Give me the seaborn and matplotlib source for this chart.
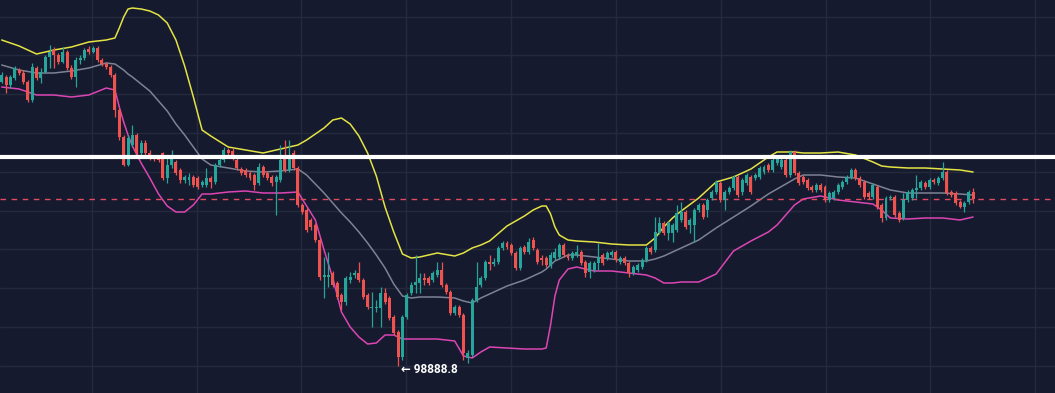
import numpy as np
import pandas as pd
import matplotlib
matplotlib.use("Agg")
import matplotlib.pyplot as plt
import seaborn as sns

# candles
opens = [
    113100, 113350, 112950, 113300, 113700, 113550, 113100, 112200, 113800, 113300,
    113600, 114350, 114700, 114450, 114100, 114600, 113800, 113350, 114200, 114300,
    114750, 114600, 114800, 114200, 114000, 113850, 113450, 111700, 110350, 108950,
    109950, 110450, 109550, 110050, 109550, 109350, 109350, 109550, 108300, 108950,
    109100, 108700, 108200, 108200, 108350, 108300, 107950, 107950, 108300, 108100,
    108950, 109200, 109700, 109650, 109200, 108750, 108700, 108550, 108450, 108050,
    108850, 108550, 108350, 108100, 108200, 109450, 108700, 109550, 108800, 106950,
    106700, 106200, 105950, 105200, 103350, 103350, 103550, 103050, 102450, 102100,
    103200, 103450, 103550, 103200, 102450, 101800, 101800, 101800, 102550, 102300,
    101350, 100600, 99350, 101350, 102550, 102950, 103050, 103300, 103300, 103200,
    103450, 103700, 102950, 102600, 101550, 101850, 101450, 99300, 99450, 102200,
    102950, 103300, 104100, 104000, 104100, 104800, 105050, 104950, 104550, 103800,
    104850, 104600, 105200, 104700, 104300, 104300, 103950, 104300, 104350, 104950,
    104450, 104300, 104450, 104600, 104100, 103600, 103700, 104050, 104450, 104300,
    104450, 104600, 104100, 104300, 104050, 103550, 103700, 103850, 104200, 104800,
    104700, 105600, 106050, 105550, 105550, 105700, 106200, 106600, 105950, 105950,
    106700, 106950, 106700, 107300, 107600, 108050, 107200, 107600, 107800, 108350,
    107600, 108050, 108350, 108300, 108350, 108600, 108950, 108700, 109050, 108850,
    109200, 108450, 109600, 108550, 108350, 108200, 107850, 107700, 107950, 107850,
    107200, 107300, 107600, 107850, 108100, 108350, 108700, 108300, 108100, 107550,
    107350, 107850, 106950, 106300, 107300, 107350, 106550, 106300, 107200, 107300,
    107700, 107800, 108050, 107850, 108200, 108050, 108300, 108600, 107600, 107550,
    107100, 106850, 107100, 107600,
]
closes = [
    113450, 112950, 113350, 113800, 113550, 113100, 112200, 113850, 113300, 113600,
    114350, 114600, 114450, 114100, 114600, 113800, 113350, 114200, 114300, 114700,
    114600, 114800, 114200, 114000, 113850, 113450, 111700, 110350, 108950, 110300,
    110450, 109550, 110050, 109550, 109300, 109250, 109200, 108300, 108950, 109300,
    108550, 108200, 108350, 108350, 107950, 107850, 108100, 108300, 108100, 108950,
    109200, 109700, 109550, 109300, 108800, 108550, 108450, 108300, 107950, 108850,
    108450, 108300, 108050, 108350, 109200, 108700, 109450, 108800, 106950, 106600,
    105700, 105850, 105200, 103350, 103450, 103450, 102950, 102350, 102100, 103300,
    103350, 103550, 103200, 102350, 101850, 101850, 101850, 102550, 102100, 101300,
    100550, 99350, 101350, 102450, 102950, 103100, 103300, 103200, 103050, 103550,
    103700, 102950, 102600, 101550, 101850, 101450, 99550, 99550, 102200, 102850,
    103300, 104100, 104000, 104100, 104800, 105050, 104850, 104550, 103800, 104800,
    104600, 105100, 104800, 104100, 104200, 103950, 104450, 104600, 104950, 104450,
    104300, 104550, 104600, 104050, 103550, 104050, 104050, 104350, 104050, 104550,
    104600, 104200, 104300, 104050, 103550, 103850, 103950, 104200, 104800, 104600,
    105600, 106050, 105550, 106050, 105950, 106550, 106600, 105850, 106200, 106700,
    106950, 106350, 107200, 107600, 108100, 107200, 107600, 107800, 108350, 107450,
    108200, 108450, 107600, 108450, 108800, 108850, 108700, 109200, 109300, 109200,
    108450, 109600, 108550, 108050, 108100, 107800, 107700, 107950, 107700, 107200,
    107550, 107600, 107950, 108100, 108350, 108700, 108300, 107950, 107350, 107350,
    107950, 106850, 106300, 107300, 107350, 106450, 106200, 107200, 107600, 107700,
    107800, 108100, 107850, 108200, 108100, 108300, 108600, 107550, 107450, 107050,
    106850, 107050, 107600, 107250,
]
highs = [
    113600, 113450, 113450, 113900, 113800, 113700, 113200, 114050, 113900, 113800,
    114450, 114950, 114850, 114550, 114850, 114700, 113950, 114350, 114450, 114800,
    114900, 114900, 114900, 114300, 114100, 113950, 113550, 111800, 110450, 110450,
    110950, 110550, 110200, 110200, 109700, 109450, 109450, 109600, 109450, 109700,
    109200, 108800, 108450, 108550, 108450, 108400, 108200, 108800, 108400, 109050,
    109350, 109850, 109800, 109800, 109300, 108850, 108800, 108650, 108550, 109050,
    108950, 108650, 108450, 108450, 109950, 110200, 110200, 109700, 108900, 107050,
    106800, 106300, 106050, 105300, 104350, 104600, 103650, 103150, 102550, 103400,
    103600, 103700, 104100, 103300, 102550, 102600, 102200, 102850, 102800, 102400,
    101450, 100700, 101450, 102550, 103100, 104450, 103550, 103550, 103400, 103650,
    104100, 104100, 103050, 102700, 101950, 101950, 101550, 99700, 102300, 104100,
    103400, 104200, 104450, 104300, 104900, 105150, 105150, 105050, 104650, 104900,
    104950, 105300, 105350, 104800, 104450, 104400, 104600, 104800, 105050, 105050,
    104550, 104650, 104950, 104700, 104200, 104150, 104150, 105050, 104550, 104650,
    104700, 104700, 104400, 104400, 104150, 103950, 104050, 104300, 104900, 104900,
    106350, 106350, 106150, 106150, 106050, 106950, 107100, 106700, 106300, 106800,
    107050, 107050, 107300, 107700, 108200, 108150, 107700, 107900, 108450, 108450,
    108300, 108550, 108450, 108550, 108900, 108950, 109050, 109300, 109400, 109300,
    109300, 109700, 109700, 108650, 108450, 108300, 107950, 108050, 108050, 107950,
    107650, 107700, 108050, 108200, 108450, 108800, 108800, 108400, 108200, 107650,
    108050, 107950, 107050, 107400, 107450, 107450, 106650, 107550, 107700, 107800,
    108450, 108200, 108150, 108300, 108300, 108400, 109100, 108700, 107700, 107650,
    107200, 107150, 107700, 107800,
]
lows = [
    113050, 112550, 112800, 113200, 113450, 113000, 112100, 112100, 113200, 113050,
    113550, 113800, 113800, 114000, 114050, 113700, 113250, 112850, 114000, 114200,
    114500, 114550, 114100, 113900, 113750, 113350, 111350, 110200, 108900, 108900,
    109850, 109450, 109450, 109400, 109200, 109150, 109100, 108200, 108050, 108800,
    108450, 108050, 108050, 107950, 107850, 107750, 107850, 107850, 107800, 108000,
    108850, 109100, 109450, 109200, 108700, 108450, 108350, 108200, 107700, 107950,
    108350, 108200, 107900, 106450, 108100, 108600, 108600, 108700, 106850, 106500,
    105600, 105700, 105100, 103200, 102300, 102850, 102850, 102250, 101700, 101950,
    103050, 103300, 103100, 102250, 101750, 100850, 101600, 100850, 102000, 101200,
    100450, 98888.8, 99200, 101250, 102450, 102550, 102550, 102950, 102950, 103100,
    103350, 102850, 102500, 101450, 101450, 101350, 99200, 99050, 99350, 102100,
    102850, 103200, 103700, 103900, 104000, 104700, 104750, 104450, 103700, 103700,
    104500, 104500, 104700, 104000, 103950, 103850, 103800, 104200, 104250, 104350,
    104200, 104200, 104350, 103950, 103350, 103300, 103600, 103700, 103950, 104200,
    104350, 104100, 104000, 103950, 103350, 103450, 103600, 103750, 104100, 104500,
    104600, 105500, 105450, 105200, 105100, 105600, 106100, 105750, 105550, 105100,
    106600, 106250, 106350, 107200, 107500, 107100, 106700, 107500, 107700, 107350,
    107450, 107950, 107500, 108200, 108250, 108500, 108600, 108600, 108950, 108750,
    108350, 108350, 108450, 107950, 108000, 107700, 107600, 107600, 107600, 107100,
    107100, 107200, 107500, 107750, 108000, 108250, 108200, 107850, 107250, 107250,
    107250, 106750, 106100, 106200, 107200, 106350, 106100, 106200, 107100, 107200,
    107300, 107700, 107750, 107750, 108000, 107950, 108200, 107450, 107350, 106950,
    106800, 106600, 107000, 107050,
]

# bollinger bands, read at these candles
band_idx = [
    0, 4, 8, 12, 16, 20, 24, 26, 27, 28,
    29, 30, 32, 34, 36, 38, 40, 42, 44, 46,
    48, 52, 56, 60, 64, 68, 70, 72, 74, 76,
    78, 80, 82, 84, 86, 88, 90, 92, 94, 96,
    100, 104, 106, 108, 110, 112, 116, 120, 122, 124,
    125, 126, 127, 128, 130, 132, 136, 140, 144, 148,
    150, 152, 154, 156, 160, 164, 168, 172, 176, 178,
    180, 182, 184, 188, 192, 196, 200, 202, 204, 208,
    212, 216, 220, 223,
]
upper_band = [
    115200, 114900, 114500, 114700, 114850, 115100, 115200, 115300, 115800, 116350,
    116750, 116800, 116750, 116650, 116450, 116050, 115200, 113900, 112350, 110700,
    110400, 109850, 109700, 109550, 109750, 109950, 110200, 110500, 110800, 111200,
    111300, 111000, 110400, 109550, 108400, 106850, 105600, 104500, 104300, 104350,
    104550, 104400, 104550, 104800, 104950, 105150, 105900, 106400, 106700, 106900,
    106900, 106500, 105850, 105450, 105200, 105150, 105100, 105000, 104950, 104950,
    105300, 105850, 106300, 106650, 107300, 108100, 108350, 108750, 109350, 109600,
    109600, 109600, 109550, 109550, 109600, 109450, 109100, 108900, 108850, 108800,
    108800, 108750, 108700, 108600,
]
mid_band = [
    113950, 113700, 113550, 113550, 113650, 113800, 114050, 114000, 113850, 113700,
    113500, 113350, 113000, 112650, 112150, 111650, 111000, 110450, 109850, 109250,
    108950, 108800, 108650, 108600, 108650, 108750, 108450, 108000, 107550, 107050,
    106550, 106100, 105600, 105050, 104450, 103800, 103000, 102400, 102300, 102350,
    102350, 102300, 102150, 102050, 102300, 102500, 102900, 103200, 103400, 103600,
    103750, 103950, 104150, 104250, 104450, 104450, 104350, 104250, 104150, 104150,
    104250, 104400, 104600, 104800, 105200, 105800, 106350, 106900, 107500, 107750,
    108000, 108250, 108450, 108450, 108350, 108300, 108000, 107850, 107700, 107550,
    107550, 107550, 107500, 107450,
]
lower_band = [
    112850, 112750, 112450, 112450, 112350, 112450, 112800, 112700, 111850, 111100,
    110450, 109900, 109050, 108300, 107500, 106900, 106600, 106600, 106950, 107500,
    107500, 107600, 107650, 107550, 107550, 107600, 106900, 106200, 104700, 103300,
    101600, 100850, 100350, 100000, 100050, 100450, 100450, 100250, 100250, 100250,
    100250, 100150, 99400, 99300, 99600, 99850, 99800, 99750, 99750, 99750,
    99800, 100950, 102400, 103200, 103750, 103850, 103650, 103650, 103550, 103450,
    103300, 103050, 103050, 103100, 103100, 103500, 104650, 105150, 105600, 105950,
    106450, 106950, 107250, 107400, 107200, 107100, 107000, 106700, 106300, 106250,
    106300, 106300, 106200, 106350,
]

level_price = 109350
low_text = "98888.8"

bg = "#161a2e"
up_col = "#26a69a"
down_col = "#ef5350"

sns.set_style("dark", rc={
    "axes.facecolor": bg,
    "figure.facecolor": bg,
    "grid.color": "#242a3d",
    "axes.grid": True,
})

df = pd.DataFrame({"open": opens, "close": closes, "high": highs, "low": lows})
df["i"] = np.arange(len(df))
df["col"] = np.where(df["close"] >= df["open"], up_col, down_col)

bands = pd.DataFrame({"i": band_idx, "upper": upper_band,
                      "mid": mid_band, "lower": lower_band})

fig = plt.figure(figsize=(10.55, 3.93), dpi=100)
ax = fig.add_axes([0, 0, 1, 1])

# grid
ax.set_xticks(np.arange(20.7, 242, 24.06))
ax.set_yticks(np.arange(116375, 97000, -1940))
ax.grid(True, color="#242a3d", linewidth=1)
ax.tick_params(length=0, labelbottom=False, labelleft=False)
for s in ax.spines.values():
    s.set_visible(False)

# bands
sns.lineplot(data=bands, x="i", y="upper", color="#e3e344", linewidth=1.1, ax=ax, sort=False, estimator=None)
sns.lineplot(data=bands, x="i", y="mid", color="#7d8294", linewidth=1.1, ax=ax, sort=False, estimator=None)
sns.lineplot(data=bands, x="i", y="lower", color="#dc46b4", linewidth=1.1, ax=ax, sort=False, estimator=None)

# candles
ax.vlines(df["i"], df["low"], df["high"], colors=df["col"], linewidth=0.9, zorder=3)
body = np.maximum((df["close"] - df["open"]).abs(), 50)
ax.bar(df["i"], body, bottom=np.minimum(df["open"], df["close"]),
       width=0.68, color=df["col"], linewidth=0, zorder=4)

# last price + level
ax.axhline(df["close"].iloc[-1], color="#e04a62", linewidth=1, linestyle=(0, (4, 4)), zorder=2)
ax.axhline(level_price, color="white", linewidth=3, zorder=6)

# low marker
lo = df["low"].idxmin()
ax.annotate("\u2190 " + low_text, xy=(lo, df["low"].iloc[lo]), xytext=(2, -2),
            textcoords="offset points", ha="left", va="center", color="white",
            fontsize=8.5, fontweight="bold", family=["Roboto", "DejaVu Sans"], zorder=7)

ax.set_xlim(-0.39, 241.8)
ax.set_ylim(97550, 117200)
ax.set_xlabel("")
ax.set_ylabel("")

fig.savefig("out.png", dpi=100, facecolor=bg)
